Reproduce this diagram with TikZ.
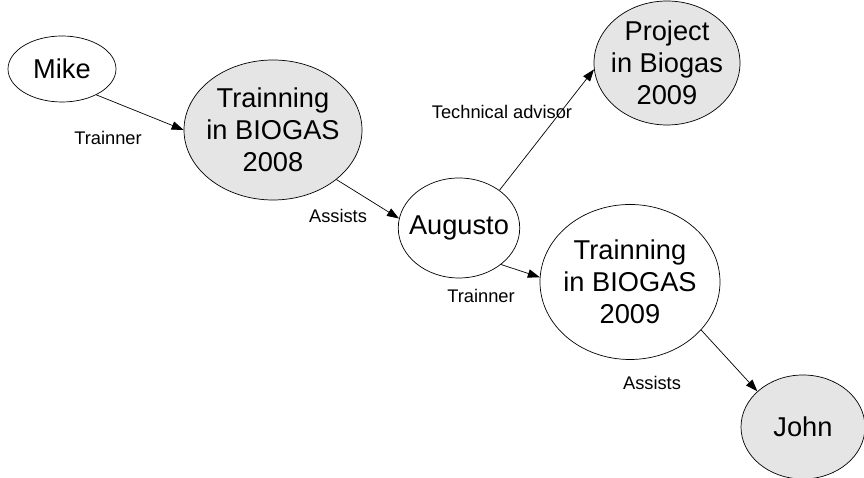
\documentclass[tikz,border=0pt]{standalone}
\usepackage{fontspec}
\setmainfont{Liberation Sans}
\usetikzlibrary{shapes.geometric,arrows.meta}
\begin{document}
\begin{tikzpicture}[
        ent/.style={ellipse, draw, thin, inner ysep=0pt, inner xsep=-4pt, align=center,
            font=\fontsize{15.5}{18.2}\selectfont},
        act/.style={ent, fill=gray!20},
        rel/.style={font=\fontsize{10.4}{12}\selectfont},
        link/.style={-{Triangle[length=2.4mm, width=1.7mm]}, thin}]
        \useasboundingbox (0,0) rectangle (17.28,9.56);

        \node[ent, minimum width=2.16cm, minimum height=1.32cm] (mike) at (1.24,8.18) {Mike};
        \node[act, minimum width=3.56cm, minimum height=2.8cm] (train08) at (5.46,6.96) {Trainning\\in BIOGAS\\2008};
        \node[ent, minimum width=2.28cm, minimum height=2cm] (augusto) at (9.18,5.0) {Augusto};
        \node[act, minimum width=2.92cm, minimum height=2.48cm] (project) at (13.34,8.3) {Project\\in Biogas\\2009};
        \node[ent, minimum width=3.6cm, minimum height=3.1cm] (train09) at (12.6,3.92) {Trainning\\in BIOGAS\\2009};
        \node[act, minimum width=2.48cm, minimum height=2.08cm] (john) at (16.06,1.02) {John};

        \draw[link] (mike.-37) -- (train08.west);
        \draw[link] (train08.-38) -- (augusto.171);
        \draw[link] (augusto.43) -- (project.185);
        \draw[link] (augusto.-41) -- (train09.177);
        \draw[link] (train09.-34) -- (john.142);

        \node[rel] (lab1) at (2.16,6.8) {Trainner};
        \node[rel] (lab2) at (6.76,5.24) {Assists};
        \node[rel] (lab3) at (10.04,7.32) {Technical advisor};
        \node[rel] (lab4) at (9.62,3.64) {Trainner};
        \node[rel] (lab5) at (13.04,1.9) {Assists};
    \end{tikzpicture}
\end{document}
